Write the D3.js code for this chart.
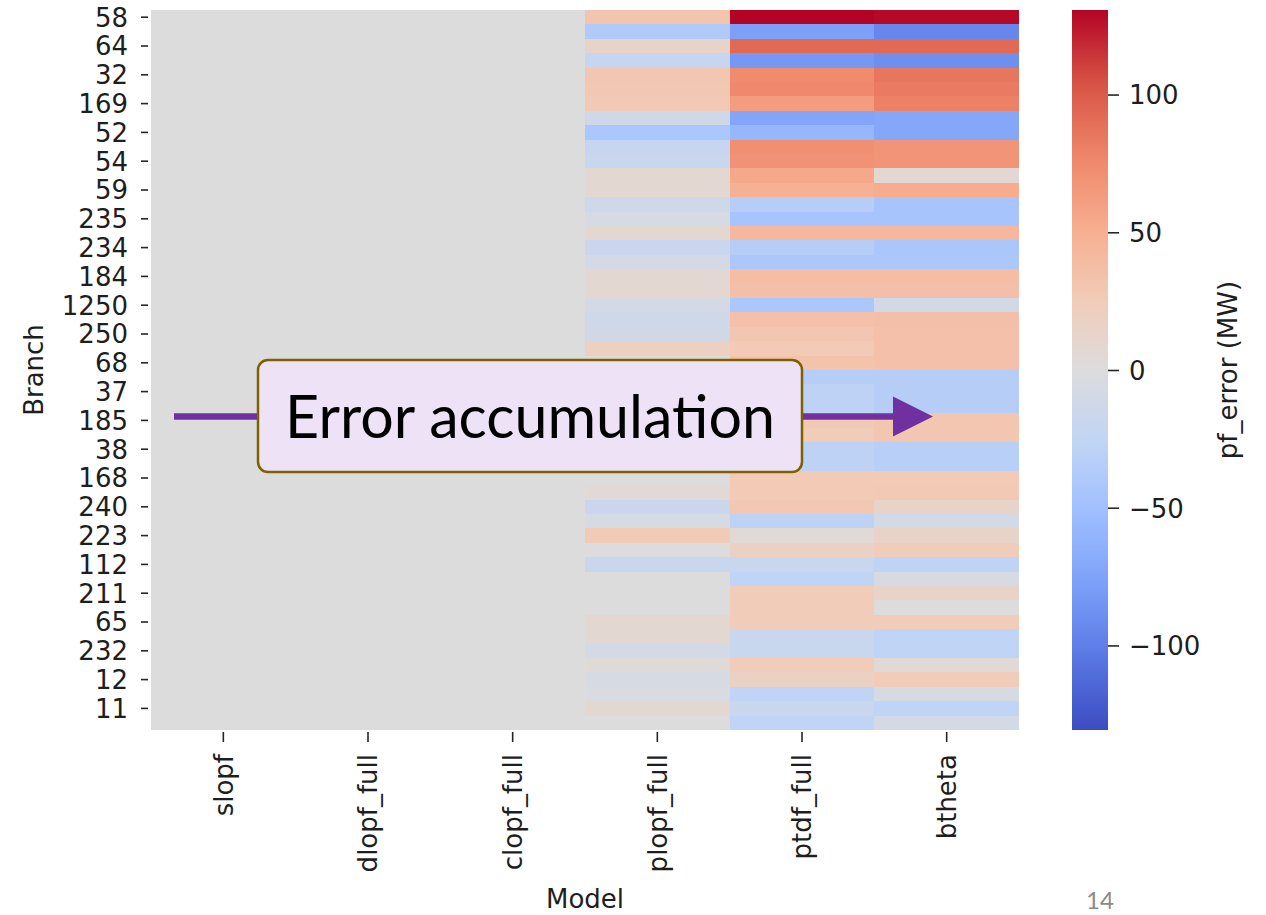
<!DOCTYPE html>
<html>
<head>
<meta charset="utf-8">
<script src="https://cdn.jsdelivr.net/npm/d3@7"></script>
<style>
  html, body { margin: 0; padding: 0; background: #fff; }
  svg { display: block; }
</style>
</head>
<body>
<svg id="chart" width="1266" height="915"></svg>
<script>
// Models (columns) and branch tick labels (every other row is labelled)
const models = ["slopf", "dlopf_full", "clopf_full", "plopf_full", "ptdf_full", "btheta"];
const branchTicks = ["58", "64", "32", "169", "52", "54", "59", "235", "234", "184", "1250", "250",
  "68", "37", "185", "38", "168", "240", "223", "112", "211", "65", "232", "12", "11"];

// Power-flow error per branch (MW), one array per model, top row first
const slopf = [0, 0, 0, 0, 0, 0, 0, 0, 0, 0, 0, 0, 0, 0, 0, 0, 0, 0, 0, 0, 0, 0, 0, 0, 0,
  0, 0, 0, 0, 0, 0, 0, 0, 0, 0, 0, 0, 0, 0, 0, 0, 0, 0, 0, 0, 0, 0, 0, 0, 0];
const dlopf_full = [0, 0, 0, 0, 0, 0, 0, 0, 0, 0, 0, 0, 0, 0, 0, 0, 0, 0, 0, 0, 0, 0, 0, 0, 0,
  0, 0, 0, 0, 0, 0, 0, 0, 0, 0, 0, 0, 0, 0, 0, 0, 0, 0, 0, 0, 0, 0, 0, 0, 0];
const clopf_full = [0, 0, 0, 0, 0, 0, 0, 0, 0, 0, 0, 0, 0, 0, 0, 0, 0, 0, 0, 0, 0, 0, 0, 0, 0,
  0, 0, 0, 0, 0, 0, 0, 0, 0, 0, 0, 0, 0, 0, 0, 0, 0, 0, 0, 0, 0, 0, 0, 0, 0];
const plopf_full = [32, -38, 15, -21, 30, 29, 28, -13, -42, -21, -19, 8, 8, -13, -7, 8, -18, -9, 8, 7,
  -9, -13, -12, 19, 3, 0, 2, -2, 1, 0, -1, 2, 0, 5, -18, -7, 26, 0, -19, 0,
  0, 0, 7, 7, -9, 3, -7, -4, 7, 0];
const ptdf_full = [130.7, -78, 92, -83, 74, 76, 63, -73, -58, 71, 69, 55, 49, -34, -45, 42, -34, -41, 38, 36,
  -42, 35, 30, 27, 33, -34, -28, -28, 28, 25, -28, -28, 27, 27, 29, -28, 5, 17, -19, -26,
  25, 25, 25, -19, -19, 25, 17, -26, -19, -26];
const btheta = [129, -94, 92, -89, 86, 83, 80, -72, -72, 68, 68, 8, 52, -45, -45, 43, -43, -41, 38, 36,
  -11, 36, 35, 35, 35, -34, -34, -34, 30, 30, -32, -32, 27, 28, 14, -9, 14, 24, -27, -7,
  14, 0, 25, -26, -26, 5, 25, -7, -26, -9];

// Colour bar ticks
const colorbarTicks = [-100, -50, 0, 50, 100];

// coolwarm diverging palette
const coolwarmStops = ["#3b4cc0", "#5977e3", "#7b9ff9", "#9ebeff", "#c0d4f5", "#dddcdc",
  "#f2cbb7", "#f7ac8e", "#ee8468", "#d65244", "#b40426"];

const series = [slopf, dlopf_full, clopf_full, plopf_full, ptdf_full, btheta];

const svg = d3.select("#chart");
const font = "'DejaVu Sans', sans-serif";
const textColor = "#1e1e1e";

const plot = { left: 151, right: 1019, top: 10, bottom: 730 };
const rowIdx = d3.range(slopf.length);

const x = d3.scaleBand().domain(models).range([plot.left, plot.right]);
const y = d3.scaleBand().domain(rowIdx).range([plot.top, plot.bottom]);

const vmax = d3.max(series.flat(), v => Math.abs(v));
const color = d3.scaleSequential([-vmax, vmax], d3.piecewise(d3.interpolateRgb, coolwarmStops));

// Heatmap cells
const cells = [];
models.forEach((m, j) => series[j].forEach((v, i) => cells.push({ m, i, v })));

svg.append("g")
  .attr("shape-rendering", "crispEdges")
  .selectAll("rect")
  .data(cells)
  .join("rect")
  .attr("x", d => x(d.m))
  .attr("y", d => y(d.i))
  .attr("width", x.bandwidth())
  .attr("height", y.bandwidth())
  .attr("fill", d => color(d.v));

function styleAxis(g) {
  g.select(".domain").remove();
  g.selectAll(".tick line").attr("stroke", "#262626").attr("stroke-width", 1.6);
  g.selectAll(".tick text").attr("fill", textColor).style("font-family", font).style("font-size", "26px");
}

// Y axis: branch labels on every other row
const yAxis = d3.axisLeft(y)
  .tickValues(rowIdx.filter(i => i % 2 === 0))
  .tickFormat(i => branchTicks[i / 2])
  .tickSize(7)
  .tickPadding(13);
svg.append("g")
  .attr("transform", `translate(${plot.left - 3},0)`)
  .call(yAxis)
  .call(styleAxis)
  .selectAll(".tick text")
  .attr("dy", "0.36em");

// X axis: rotated model names
svg.append("g")
  .attr("transform", `translate(0,${plot.bottom + 2})`)
  .call(d3.axisBottom(x).tickSize(10).tickPadding(0))
  .call(styleAxis)
  .selectAll(".tick text")
  .attr("transform", "rotate(-90)")
  .attr("x", -22)
  .attr("y", 0)
  .attr("dy", "0.36em")
  .attr("text-anchor", "end");

// Axis titles
svg.append("text")
  .attr("transform", `translate(43,${(plot.top + plot.bottom) / 2}) rotate(-90)`)
  .attr("text-anchor", "middle")
  .attr("fill", textColor)
  .style("font-family", font).style("font-size", "26px")
  .text("Branch");

svg.append("text")
  .attr("x", (plot.left + plot.right) / 2)
  .attr("y", 908)
  .attr("text-anchor", "middle")
  .attr("fill", textColor)
  .style("font-family", font).style("font-size", "26px")
  .text("Model");

// Colour bar
const cb = { x: 1072, w: 36, top: plot.top, bottom: plot.bottom };
const cScale = d3.scaleLinear([-vmax, vmax], [cb.bottom, cb.top]);
const grad = svg.append("defs").append("linearGradient")
  .attr("id", "cbGrad")
  .attr("x1", 0).attr("y1", 1).attr("x2", 0).attr("y2", 0);
grad.selectAll("stop")
  .data(d3.range(0, 1.0001, 1 / 64))
  .join("stop")
  .attr("offset", t => t)
  .attr("stop-color", t => color(-vmax + 2 * vmax * t));
svg.append("rect")
  .attr("x", cb.x).attr("y", cb.top)
  .attr("width", cb.w).attr("height", cb.bottom - cb.top)
  .attr("fill", "url(#cbGrad)");

svg.append("g")
  .attr("transform", `translate(${cb.x + cb.w},0)`)
  .call(d3.axisRight(cScale).tickValues(colorbarTicks).tickSize(11).tickPadding(10))
  .call(styleAxis)
  .selectAll(".tick text")
  .attr("dy", "0.36em");

svg.append("text")
  .attr("transform", `translate(1237,${(cb.top + cb.bottom) / 2}) rotate(-90)`)
  .attr("text-anchor", "middle")
  .attr("fill", textColor)
  .style("font-family", font).style("font-size", "26px")
  .text("pf_error (MW)");

// Annotation: arrow across the models with a labelled box
const arrowY = 416.5;
const purple = "#7030a0";
svg.append("line")
  .attr("x1", 174).attr("x2", 896)
  .attr("y1", arrowY).attr("y2", arrowY)
  .attr("stroke", purple).attr("stroke-width", 6.5);
svg.append("path")
  .attr("d", `M893,${arrowY - 20}L933,${arrowY}L893,${arrowY + 20}Z`)
  .attr("fill", purple);

svg.append("rect")
  .attr("x", 258).attr("y", 360)
  .attr("width", 544).attr("height", 112)
  .attr("rx", 10).attr("ry", 10)
  .attr("fill", "#eee2f6")
  .attr("stroke", "#7f6000")
  .attr("stroke-width", 2.5);

const label = svg.append("text")
  .attr("x", 530).attr("y", 437.5)
  .attr("text-anchor", "middle")
  .attr("fill", "#000")
  .style("font-family", "Lato, 'Open Sans', sans-serif")
  .style("font-size", "60px")
  .text("Error accumulation");
const measured = label.node().getComputedTextLength();
label.style("font-size", (60 * 490 / measured) + "px");

// Slide page number
svg.append("text")
  .attr("x", 1100).attr("y", 909)
  .attr("text-anchor", "middle")
  .attr("fill", "#8a8a8a")
  .style("font-family", "Lato, sans-serif")
  .style("font-size", "24px")
  .text("14");
</script>
</body>
</html>
